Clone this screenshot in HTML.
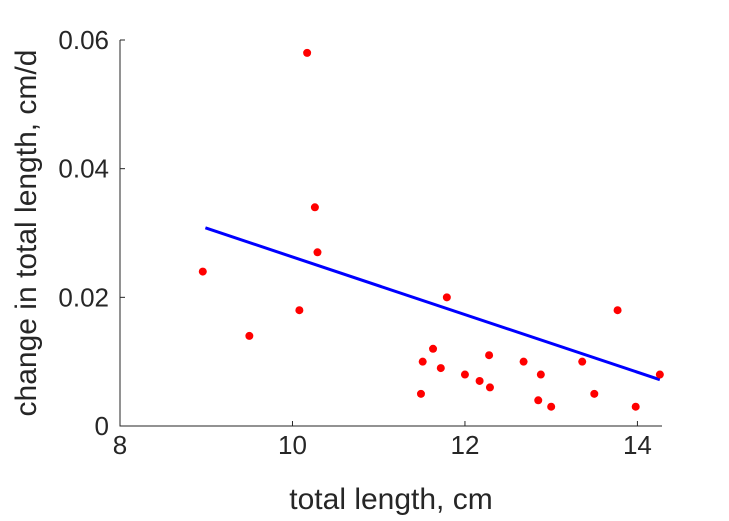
<!DOCTYPE html>
<html><head><meta charset="utf-8"><style>
html,body{margin:0;padding:0;background:#fff;}
svg{display:block;font-family:"Liberation Sans",sans-serif;}
</style></head><body>
<svg id="chart" width="729" height="521" viewBox="0 0 729 521"></svg>
<script>
const xVals=[8.96,9.50,10.08,10.17,10.26,10.29,11.49,11.51,11.63,11.72,11.79,12.0,12.17,12.28,12.29,12.68,12.85,12.88,13.0,13.36,13.5,13.77,13.98,14.26];
const yVals=[0.024,0.014,0.018,0.058,0.034,0.027,0.005,0.010,0.012,0.009,0.020,0.008,0.007,0.011,0.006,0.010,0.004,0.008,0.003,0.010,0.005,0.018,0.003,0.008];
const fitX=[8.99,14.26];
const fitY=[0.0308,0.0072];
const xTicks=[8,10,12,14];
const yTicks=[0,0.02,0.04,0.06];
const xTickLabels=["8","10","12","14"];
const yTickLabels=["0","0.02","0.04","0.06"];
const L=120,R=662,T=40,B=426,XMIN=8,XMAX=14.285,YMIN=0,YMAX=0.06;
const sx=v=>L+(v-XMIN)/(XMAX-XMIN)*(R-L);
const sy=v=>B-(v-YMIN)/(YMAX-YMIN)*(B-T);
const svg=document.getElementById('chart');
const NS='http://www.w3.org/2000/svg';
function mk(tag,attrs,parent){const e=document.createElementNS(NS,tag);for(const k in attrs)e.setAttribute(k,attrs[k]);(parent||svg).appendChild(e);return e;}
const fit=mk('line',{x1:sx(fitX[0]),y1:sy(fitY[0]),x2:sx(fitX[1]),y2:sy(fitY[1]),stroke:'#0000ff','stroke-width':3});


xVals.forEach((x,i)=>{const c=mk('circle',{cx:sx(x),cy:sy(yVals[i]),r:4,fill:'#ff0000'});

});
const ax=mk('path',{d:`M${L},${T}V${B}H${R}`,fill:'none',stroke:'#262626','stroke-width':1});


xTicks.forEach((t,i)=>{const x=sx(t);mk('line',{x1:x,y1:B,x2:x,y2:B-5,stroke:'#262626'});
const tx=mk('text',{x:x,y:B+28,'text-anchor':'middle','font-size':26,fill:'#262626'});tx.textContent=xTickLabels[i];

});
yTicks.forEach((t,i)=>{const y=sy(t);mk('line',{x1:L,y1:y,x2:L+5,y2:y,stroke:'#262626'});
const tx=mk('text',{x:L-11,y:y+9,'text-anchor':'end','font-size':26,fill:'#262626'});tx.textContent=yTickLabels[i];

});
const xt=mk('text',{x:391,y:509,'text-anchor':'middle','font-size':30,fill:'#262626'});xt.textContent='total length, cm';


const yt=mk('text',{x:0,y:0,'text-anchor':'middle','font-size':30,fill:'#262626',transform:`translate(36,233) rotate(-90)`});yt.textContent='change in total length, cm/d';


</script>
</body></html>
